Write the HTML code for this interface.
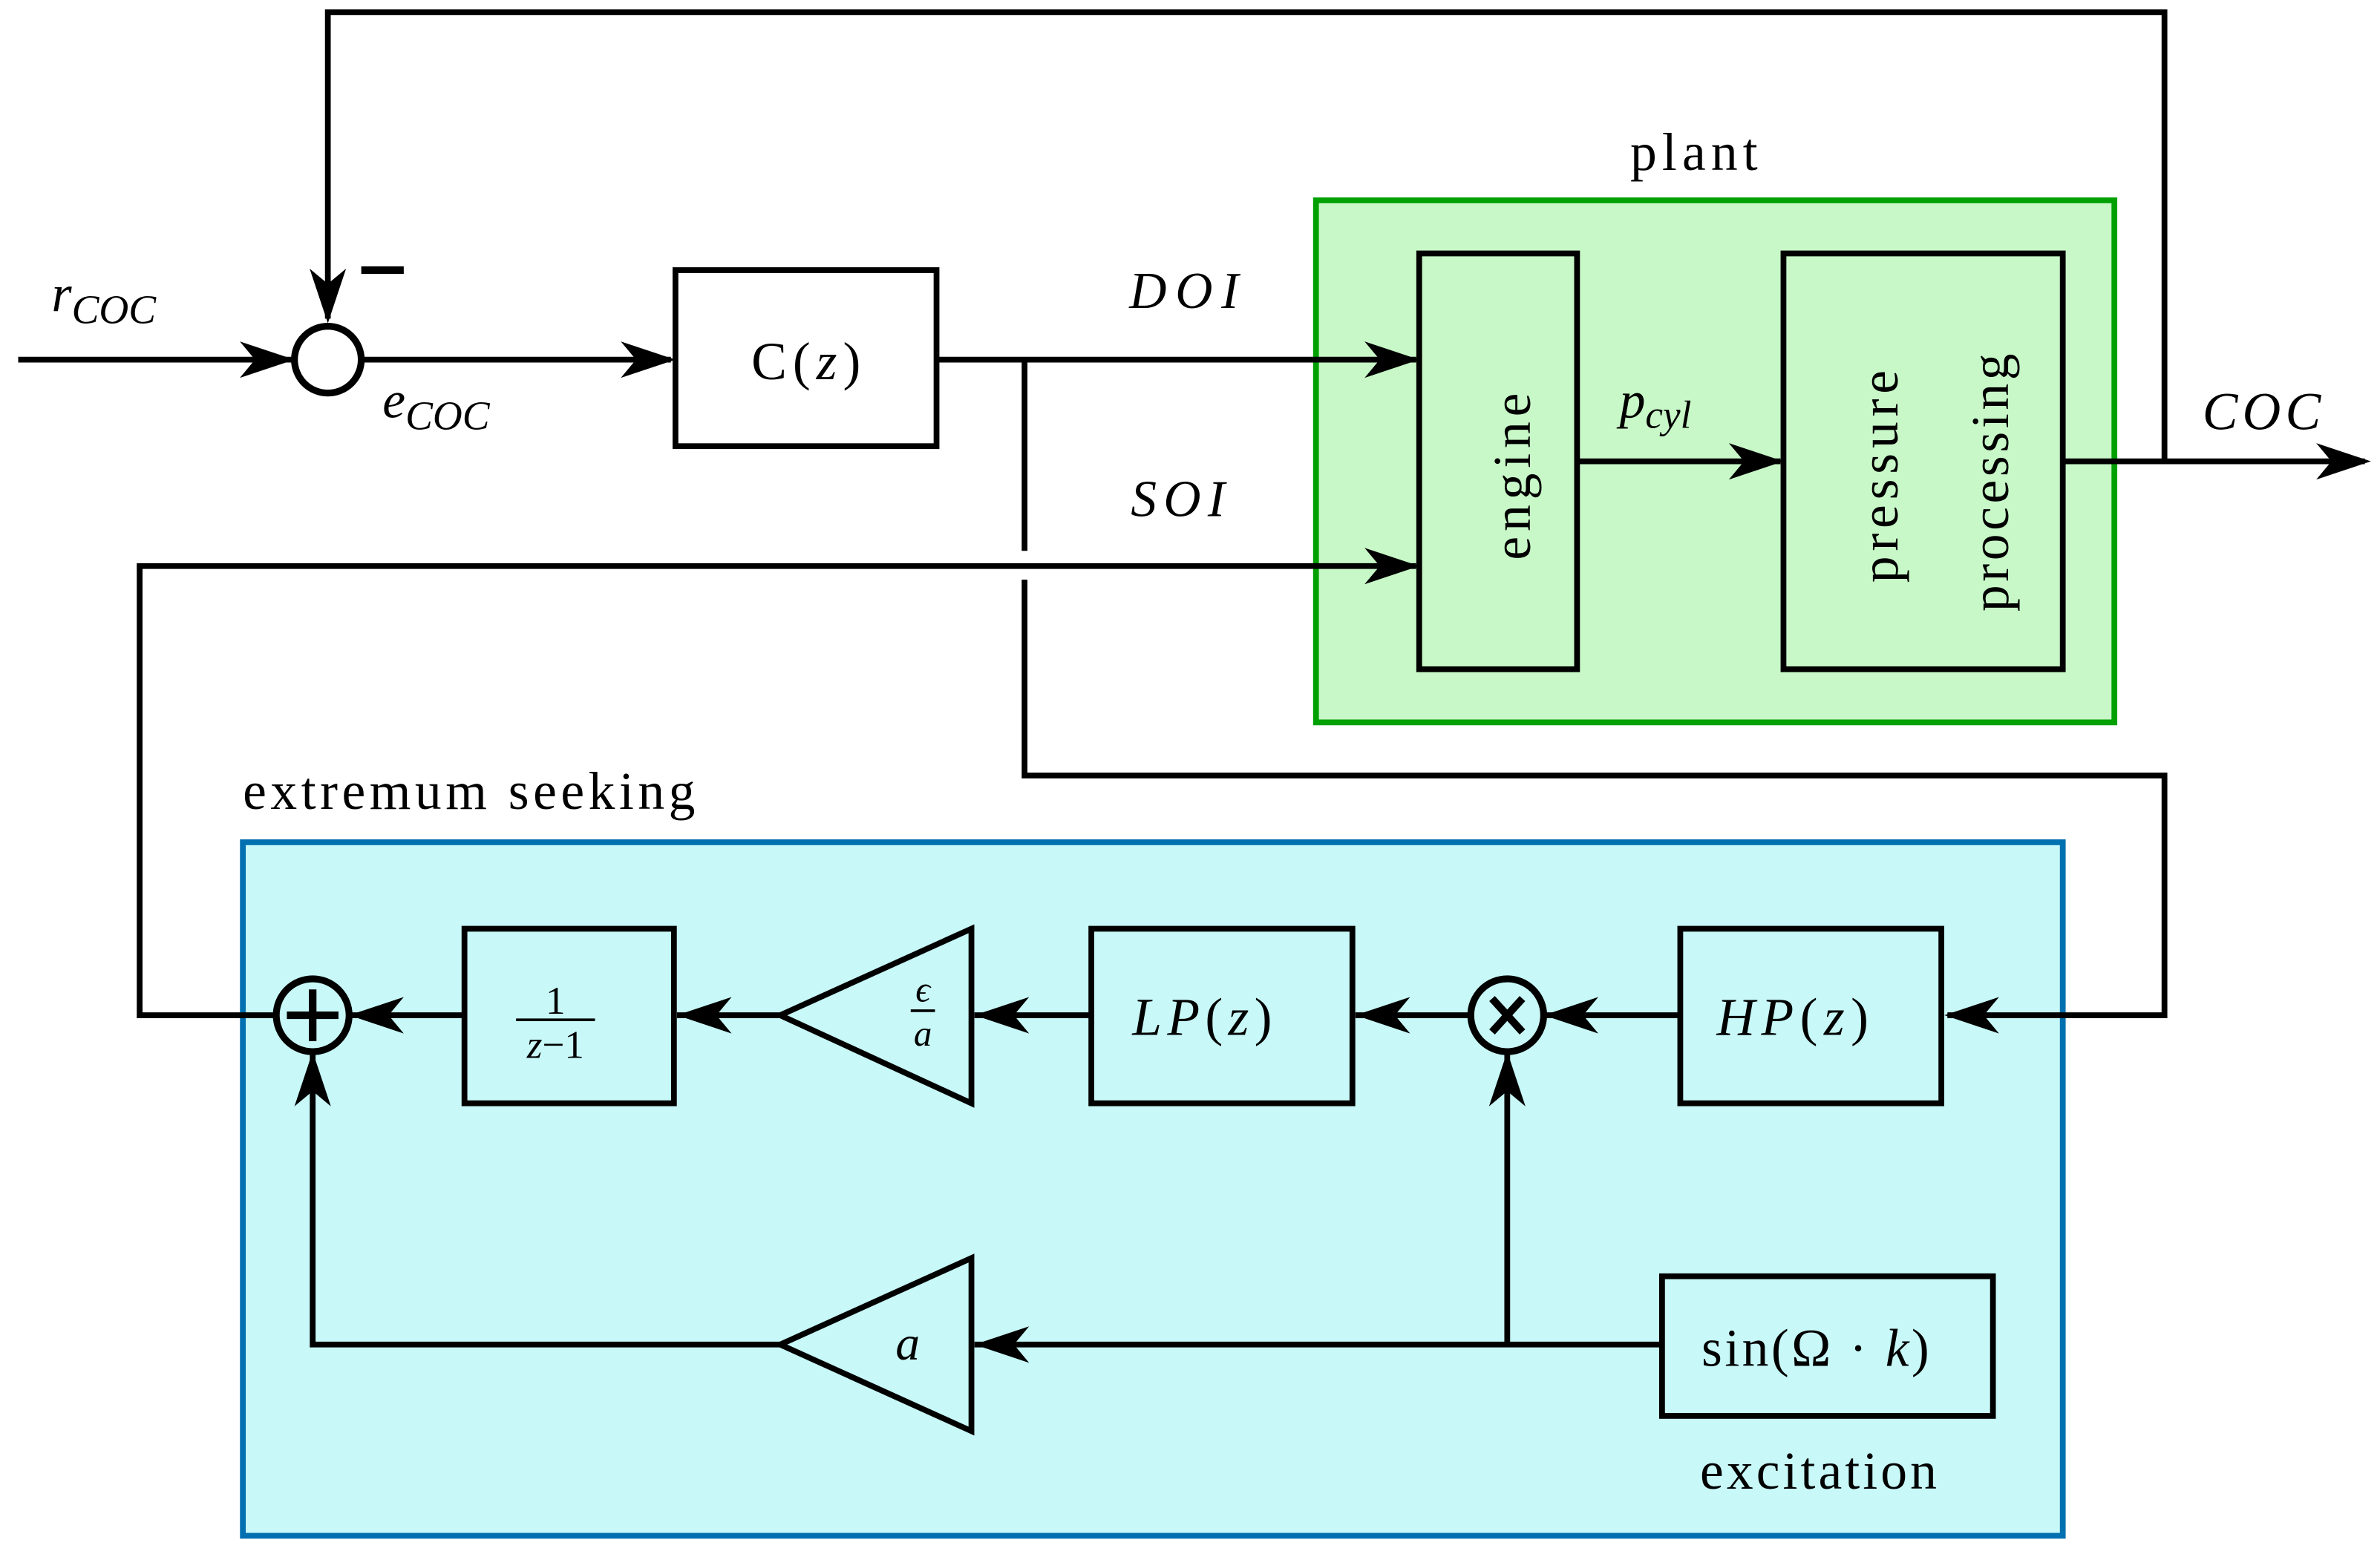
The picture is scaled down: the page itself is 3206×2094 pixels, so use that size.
<!DOCTYPE html>
<html><head><meta charset="utf-8"><style>html,body{margin:0;padding:0;background:#fff}svg{display:block}text{font-family:"Liberation Serif",serif;fill:#000}</style></head><body>
<svg width="3206" height="2094" viewBox="0 0 1568 1024" preserveAspectRatio="none" xmlns="http://www.w3.org/2000/svg">
<defs>
<path id="ah" d="M0,0 L-36,-12 L-26,0 L-36,12 Z" fill="#000"/>
</defs>
<g stroke="#000" stroke-width="3.8" fill="none">
<rect x="867" y="132" width="526" height="344" fill="#c8f8c8" stroke="#00a000"/>
<rect x="160" y="555" width="1199" height="457" fill="#c8f8f8" stroke="#0070b0"/>
<polyline points="216,210 216,8 1426,8 1426,304"/>
<line x1="12" y1="237" x2="192" y2="237"/>
<circle cx="216" cy="237" r="22" fill="#fff" stroke-width="4.5"/>
<line x1="238" y1="237" x2="442" y2="237"/>
<rect x="445" y="178" width="172" height="116" fill="#fff"/>
<line x1="617" y1="237" x2="933" y2="237"/>
<polyline points="675,237 675,363"/>
<polyline points="675,382 675,511 1426,511 1426,669 1283,669"/>
<polyline points="933,373 92,373 92,669 182,669"/>
<rect x="935" y="167" width="104" height="274"/>
<rect x="1175" y="167" width="184" height="274"/>
<line x1="1039" y1="304" x2="1173" y2="304"/>
<line x1="1359" y1="304" x2="1558" y2="304"/>
<circle cx="206" cy="669" r="24" stroke-width="4.5"/>
<line x1="206" y1="652" x2="206" y2="686" stroke-width="5"/><line x1="189" y1="669" x2="223" y2="669" stroke-width="5"/>
<rect x="306" y="612" width="138" height="115"/>
<line x1="306" y1="669" x2="232" y2="669"/>
<polygon points="514,669 640,612 640,727"/>
<line x1="514" y1="669" x2="446" y2="669"/>
<rect x="719" y="612" width="172" height="115"/>
<line x1="719" y1="669" x2="642" y2="669"/>
<circle cx="993" cy="669" r="24" stroke-width="4.5"/>
<line x1="983" y1="658" x2="1003" y2="680" stroke-width="5"/><line x1="1003" y1="658" x2="983" y2="680" stroke-width="5"/>
<line x1="969" y1="669" x2="893" y2="669"/>
<rect x="1107" y="612" width="172" height="115"/>
<line x1="1107" y1="669" x2="1019" y2="669"/>
<polygon points="514,886 640,829 640,943"/>
<rect x="1095" y="841" width="218" height="92"/>
<line x1="1095" y1="886" x2="642" y2="886"/>
<polyline points="993,886 993,695"/>
<polyline points="514,886 206,886 206,695"/>
</g>
<line x1="238" y1="178" x2="266" y2="178" stroke="#000" stroke-width="5"/>
<use href="#ah" transform="translate(216,213) rotate(90)"/>
<use href="#ah" transform="translate(194,237)"/>
<use href="#ah" transform="translate(445,237)"/>
<use href="#ah" transform="translate(935,237)"/>
<use href="#ah" transform="translate(935,373)"/>
<use href="#ah" transform="translate(1175,304)"/>
<use href="#ah" transform="translate(1562,304)"/>
<use href="#ah" transform="translate(1281,669) rotate(180)"/>
<use href="#ah" transform="translate(1017,669) rotate(180)"/>
<use href="#ah" transform="translate(893,669) rotate(180)"/>
<use href="#ah" transform="translate(642,669) rotate(180)"/>
<use href="#ah" transform="translate(446,669) rotate(180)"/>
<use href="#ah" transform="translate(230,669) rotate(180)"/>
<use href="#ah" transform="translate(642,886) rotate(180)"/>
<use href="#ah" transform="translate(993,693) rotate(-90)"/>
<use href="#ah" transform="translate(206,693) rotate(-90)"/>
<text x="34" y="205" font-size="34" font-style="italic">r<tspan font-size="27" dy="8">COC</tspan></text>
<text x="252" y="275" font-size="34" font-style="italic">e<tspan font-size="27" dy="8">COC</tspan></text>
<text x="531" y="250" font-size="35" text-anchor="middle" textLength="72">C(<tspan font-style="italic">z</tspan>)</text>
<text x="780" y="203" font-size="34" font-style="italic" text-anchor="middle" textLength="72">DOI</text>
<text x="776" y="340" font-size="34" font-style="italic" text-anchor="middle" textLength="62">SOI</text>
<text x="1116" y="112" font-size="35" text-anchor="middle" textLength="84">plant</text>
<text x="1067" y="275" font-size="34" font-style="italic">p<tspan font-size="26" dy="7">cyl</tspan></text>
<text x="1490" y="283" font-size="35" font-style="italic" text-anchor="middle" textLength="78">COC</text>
<text transform="translate(1008,314) rotate(-90)" font-size="35" text-anchor="middle" textLength="110">engine</text>
<text transform="translate(1250,314) rotate(-90)" font-size="35" text-anchor="middle" textLength="140">pressure</text>
<text transform="translate(1323,318) rotate(-90)" font-size="35" text-anchor="middle" textLength="170">processing</text>
<text x="160" y="533" font-size="35" textLength="298">extremum seeking</text>
<text x="366" y="668" font-size="26" text-anchor="middle">1</text>
<line x1="340" y1="672" x2="392" y2="672" stroke="#000" stroke-width="1.8"/>
<text x="366" y="697" font-size="26" text-anchor="middle"><tspan font-style="italic">z</tspan>−1</text>
<text x="608" y="660" font-size="24" font-style="italic" text-anchor="middle">ϵ</text>
<line x1="600" y1="666" x2="616" y2="666" stroke="#000" stroke-width="1.8"/>
<text x="608" y="689" font-size="24" font-style="italic" text-anchor="middle">a</text>
<text x="792" y="682" font-size="35" font-style="italic" text-anchor="middle" textLength="92">LP<tspan font-style="normal">(</tspan>z<tspan font-style="normal">)</tspan></text>
<text x="1181" y="682" font-size="35" font-style="italic" text-anchor="middle" textLength="100">HP<tspan font-style="normal">(</tspan>z<tspan font-style="normal">)</tspan></text>
<text x="598" y="896" font-size="32" font-style="italic" text-anchor="middle">a</text>
<text x="1196" y="900" font-size="35" text-anchor="middle" textLength="150">sin(Ω · <tspan font-style="italic">k</tspan>)</text>
<text x="1198" y="981" font-size="35" text-anchor="middle" textLength="156">excitation</text>
</svg>
</body></html>
